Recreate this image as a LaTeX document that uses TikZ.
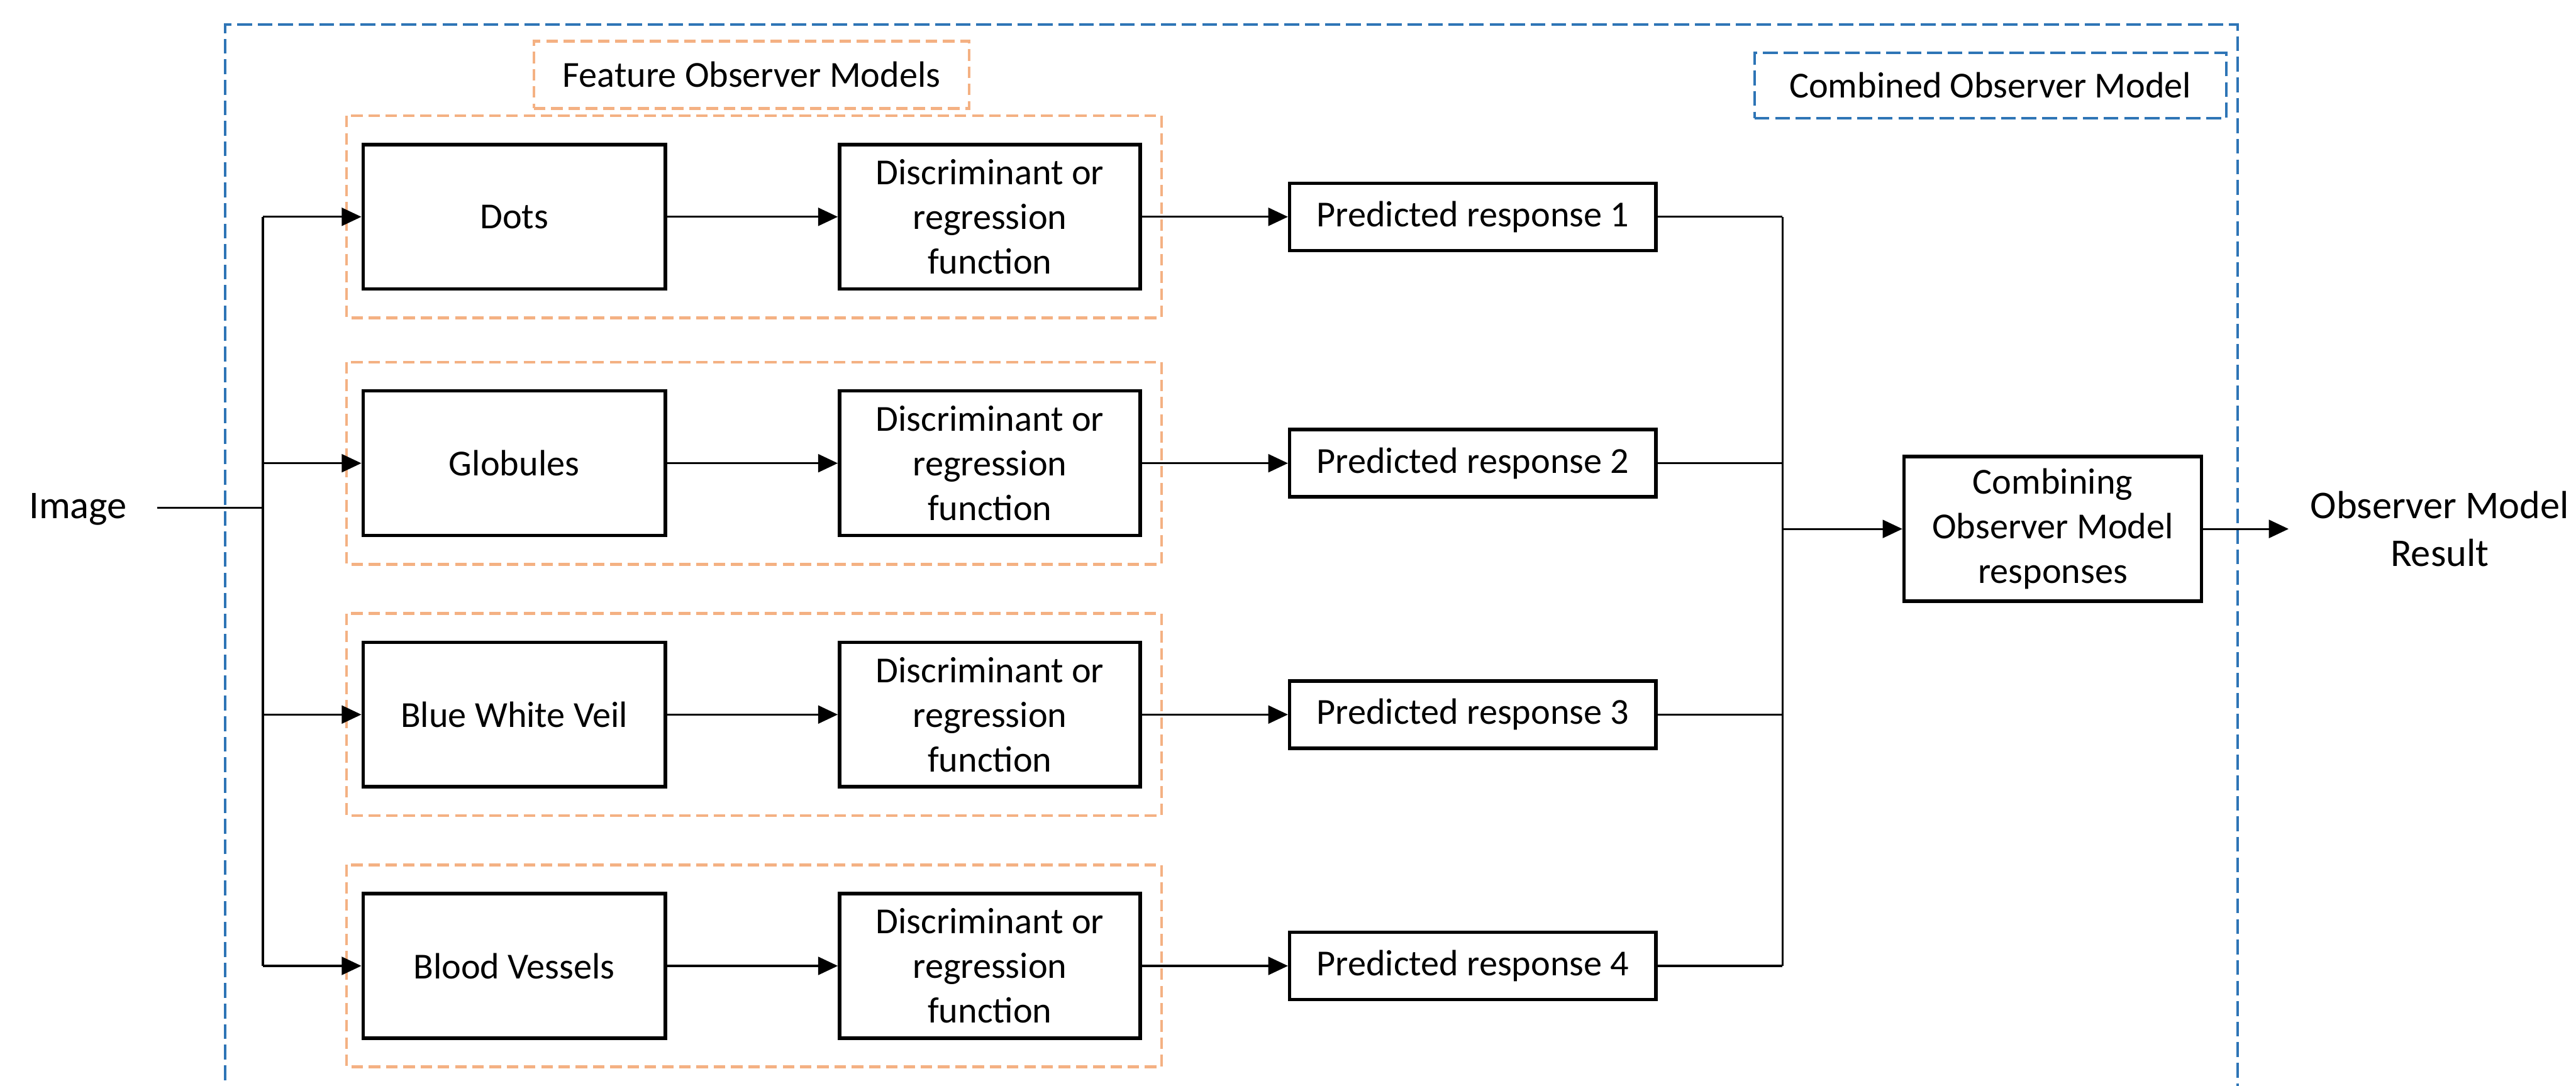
\documentclass[tikz,border=0pt]{standalone}
\usepackage{fontspec}
\setmainfont{Carlito}
\usetikzlibrary{arrows.meta,positioning}

\definecolor{obsblue}{HTML}{2E75B6}
\definecolor{obsorange}{HTML}{F4B183}

\tikzset{
  block/.style={draw, line width=1.2pt, align=center, inner sep=0pt, fill=white,
    font=\fontsize{12.7}{15.5}\selectfont},
  featbox/.style={block, minimum width=3.68cm, minimum height=1.76cm},
  predbox/.style={block, minimum width=4.46cm, minimum height=0.82cm},
  conn/.style={line width=0.7pt},
  flow/.style={conn, -{Triangle[length=0.24cm,width=0.22cm]}},
  groupbox/.style={draw=obsorange, line width=1pt, dash pattern=on 0.14cm off 0.07cm},
  outerbox/.style={draw=obsblue, line width=0.9pt, dash pattern=on 0.18cm off 0.07cm},
  outertext/.style={align=center, font=\fontsize{13.6}{16.4}\selectfont}
}

\begin{document}
\begin{tikzpicture}[x=0.02cm, y=-0.02cm]
    \useasboundingbox (0,0) rectangle (1568,661);

    % Define coordinates
    \coordinate (split) at (160,309);
    \coordinate (merge) at (1085,322);

    % Outer box and labels
    \draw[outerbox] (137,670) -- (137,15) -- (1362,15) -- (1362,670);
    \node[block, groupbox, minimum width=5.3cm, minimum height=0.82cm] (featlab) at (457.5,45.5) {Feature Observer Models};
    \node[block, outerbox, minimum width=5.74cm, minimum height=0.8cm] (comblab) at (1211.5,52) {Combined Observer Model};

    % Feature observer models
    \foreach \k/\lab/\y in {1/Dots/132, 2/Globules/282, 3/Blue White Veil/435, 4/Blood Vessels/588} {
        \draw[groupbox] (211,{\y-61.5}) rectangle (707,{\y+61.5});
        \node[featbox] (feat\k) at (313,\y) {\lab};
        \node[featbox, minimum width=3.66cm] (disc\k) at (602.5,\y) {Discriminant or\\regression\\function};
        \node[predbox] (pred\k) at (896.5,\y) {Predicted response \k};
    }

    % Input and output
    \node[outertext, inner xsep=0.36cm] (image) at (47.5,310) {Image};
    \node[featbox, minimum width=3.62cm] (comb) at (1249.5,322) {Combining\\Observer Model\\responses};
    \node[outertext, inner xsep=0.26cm] (result) at (1485,322) {Observer Model\\Result};

    % Connectors
    \draw[conn] (image.east |- split) -- (split);
    \draw[conn] (feat1.west -| split) -- (feat4.west -| split);
    \draw[conn] (pred1.east -| merge) -- (pred4.east -| merge);
    \foreach \k in {1,2,3,4} {
        \draw[flow] (feat\k.west -| split) -- (feat\k.west);
        \draw[flow] (feat\k) -- (disc\k);
        \draw[flow] (disc\k) -- (pred\k);
        \draw[conn] (pred\k.east) -- (pred\k.east -| merge);
    }
    \draw[flow] (merge) -- (comb);
    \draw[flow] (comb) -- (result);
\end{tikzpicture}
\end{document}
